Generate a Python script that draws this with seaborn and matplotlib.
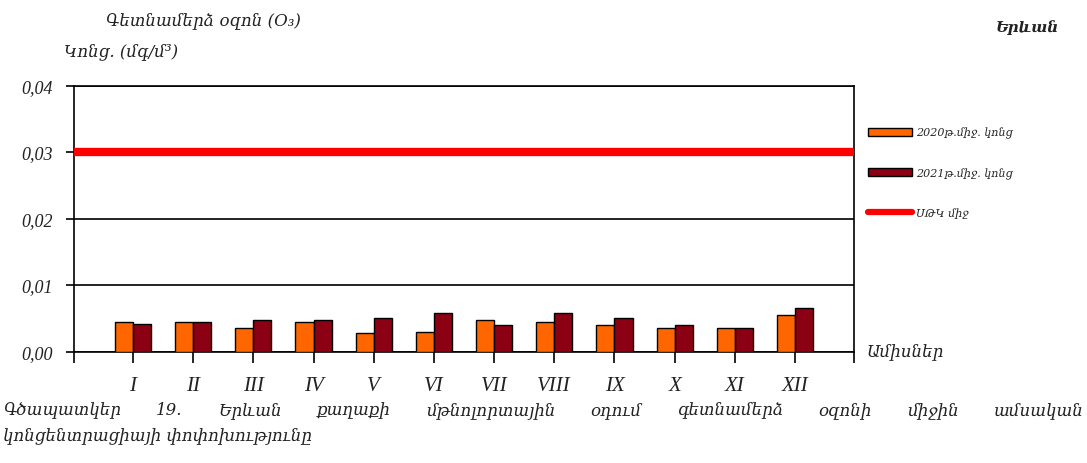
import matplotlib
matplotlib.use("Agg")
import matplotlib.pyplot as plt
import numpy as np
import pandas as pd
import seaborn as sns
from matplotlib.patches import Patch
from matplotlib.lines import Line2D

# data
months = ["I", "II", "III", "IV", "V", "VI", "VII", "VIII", "IX", "X", "XI", "XII"]
conc_2020 = [0.0045, 0.0044, 0.0036, 0.0044, 0.0028, 0.0029, 0.0047, 0.0044, 0.0040, 0.0036, 0.0036, 0.0055]
conc_2021 = [0.0041, 0.0044, 0.0047, 0.0047, 0.0051, 0.0058, 0.0040, 0.0058, 0.0051, 0.0040, 0.0036, 0.0066]
mpc_value = 0.03
series_names = ["2020թ.միջ. կոնց", "2021թ.միջ. կոնց"]
mpc_name = "ՍԹԿ միջ"
y_ticks = [0.00, 0.01, 0.02, 0.03, 0.04]
y_tick_labels = ["0,00", "0,01", "0,02", "0,03", "0,04"]

title_text = "Գետնամերձ օզոն (O₃)"
ylabel_text = "Կոնց. (մգ/մ³)"
city_text = "Երևան"
xlabel_text = "Ամիսներ"
caption_1 = "Գծապատկեր 19. Երևան քաղաքի մթնոլորտային օդում գետնամերձ օզոնի միջին ամսական"
caption_2 = "կոնցենտրացիայի փոփոխությունը"

colors = ["#FF6600", "#8B0012"]

df = pd.DataFrame({
    "month": months * 2,
    "value": conc_2020 + conc_2021,
    "series": [series_names[0]] * 12 + [series_names[1]] * 12,
})

sns.set_theme(style="white")
plt.rcParams["font.family"] = ["DejaVu Serif"]

W, H = 1087, 464
fig = plt.figure(figsize=(W / 100, H / 100), dpi=100)
ax = fig.add_axes([74 / W, 1 - 352.5 / H, (854 - 74) / W, (352.5 - 86.5) / H])

sns.barplot(data=df, x="month", y="value", hue="series", order=months,
            hue_order=series_names, palette=colors, width=0.6,
            edgecolor="black", linewidth=1.0, saturation=1, ax=ax,
            legend=False, zorder=3)

ax.axhline(mpc_value, color="#FF0000", lw=6, zorder=4, solid_capstyle="butt")

ax.set_xlim(-0.98, 11.98)
ax.set_ylim(0, 0.04)
ax.set_yticks(y_ticks)
ax.set_yticklabels(y_tick_labels, family=["Liberation Serif"], style="italic",
                   fontsize=13, color="#222222")
ax.set_xticks(range(len(months)))
ax.set_xticklabels(months, family=["Liberation Serif"], style="italic",
                   fontsize=15, color="#222222")
ax.set_xticks([-0.98, 11.98], minor=True)
ax.tick_params(axis="x", which="both", direction="out", length=8, width=1.2,
               color="black", pad=10, bottom=True)
ax.tick_params(axis="y", direction="out", length=6, width=1.2, color="black",
               pad=9, left=True)
ax.set_xlabel("")
ax.set_ylabel("")

ax.grid(axis="y", color="black", lw=1.2, zorder=1)
ax.set_axisbelow(True)
for side in ["left", "right", "top", "bottom"]:
    ax.spines[side].set_visible(True)
    ax.spines[side].set_color("black")
    ax.spines[side].set_linewidth(1.2)

# legend outside the plot area
handles = [
    Patch(facecolor=colors[0], edgecolor="black", lw=1.0),
    Patch(facecolor=colors[1], edgecolor="black", lw=1.0),
    Line2D([0], [0], color="#FF0000", lw=4.5),
]
fig.legend(handles, series_names + [mpc_name], loc="upper left",
           bbox_to_anchor=(858 / W, 1 - 118 / H), frameon=False,
           prop={"family": "DejaVu Serif", "style": "italic", "size": 8},
           handlelength=4.0, handleheight=0.8, labelspacing=2.6,
           handletextpad=0.3)

fig.text(203 / W, 1 - 22 / H, title_text, ha="center", va="center",
         style="italic", fontsize=12, color="#222222")
fig.text(64 / W, 1 - 52 / H, ylabel_text, ha="left", va="center",
         style="italic", fontsize=12, color="#222222")
fig.text(1027 / W, 1 - 28 / H, city_text, ha="center", va="center",
         style="italic", weight="bold", fontsize=11, color="#222222")
fig.text(866 / W, 1 - 352 / H, xlabel_text, ha="left", va="center",
         style="italic", fontsize=12, color="#222222")

# justified first caption line
words = caption_1.split()
word_texts = [fig.text(0, 1 - 411 / H, w, ha="left", va="center",
                       style="italic", fontsize=12, color="#222222")
              for w in words]
fig.canvas.draw()
renderer = fig.canvas.get_renderer()
widths = [t.get_window_extent(renderer).width for t in word_texts]
gap = (W - 6 - sum(widths)) / (len(words) - 1)
x = 3
for t, w in zip(word_texts, widths):
    t.set_x(x / W)
    x += w + gap
fig.text(3 / W, 1 - 436 / H, caption_2, ha="left", va="center",
         style="italic", fontsize=12, color="#222222")

fig.savefig("out.png", dpi=100)
